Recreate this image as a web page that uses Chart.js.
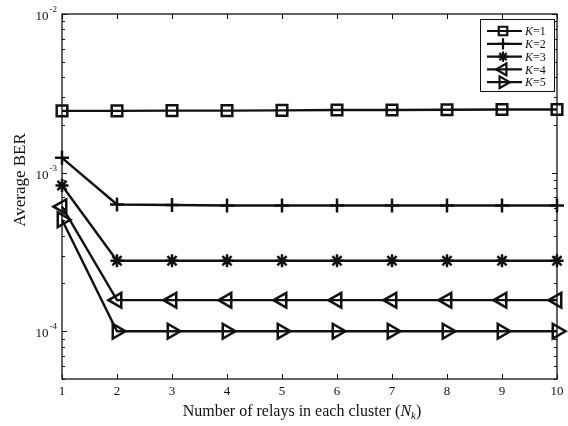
<!DOCTYPE html>
<html>
<head>
<meta charset="utf-8">
<title>Average BER vs number of relays</title>
<script src="https://cdn.jsdelivr.net/npm/chart.js@4.4.1/dist/chart.umd.min.js"></script>
<style>
  html, body { margin: 0; padding: 0; background: #fff; }
  #wrap { width: 568px; height: 426px; }
</style>
</head>
<body>
<div id="wrap"><canvas id="c" width="568" height="426"></canvas></div>
<script>
// Number of relays in each cluster
const relays = [1, 2, 3, 4, 5, 6, 7, 8, 9, 10];

// Average BER for each number of clusters K
const berK1 = [2.45e-3, 2.45e-3, 2.46e-3, 2.46e-3, 2.47e-3, 2.48e-3, 2.48e-3, 2.49e-3, 2.50e-3, 2.50e-3];
const berK2 = [1.24e-3, 6.3e-4, 6.25e-4, 6.2e-4, 6.2e-4, 6.2e-4, 6.2e-4, 6.2e-4, 6.2e-4, 6.2e-4];
const berK3 = [8.3e-4, 2.78e-4, 2.78e-4, 2.78e-4, 2.78e-4, 2.78e-4, 2.78e-4, 2.78e-4, 2.78e-4, 2.78e-4];
const berK4 = [6.1e-4, 1.57e-4, 1.57e-4, 1.57e-4, 1.57e-4, 1.57e-4, 1.57e-4, 1.57e-4, 1.57e-4, 1.57e-4];
const berK5 = [5.05e-4, 1.0e-4, 1.0e-4, 1.0e-4, 1.0e-4, 1.0e-4, 1.0e-4, 1.0e-4, 1.0e-4, 1.0e-4];

const seriesNames = ['K=1', 'K=2', 'K=3', 'K=4', 'K=5'];

// Axis ranges and labelled decades
const xTicks = [1, 2, 3, 4, 5, 6, 7, 8, 9, 10];
const yMin = 5e-5;
const yMax = 1e-2;
const yDecades = [-2, -3, -4];

const SERIF = '"Liberation Serif", "DejaVu Serif", serif';
const INK = '#111';

const markerStyles = [
  { pointStyle: 'rect', radius: 7.5, rotation: 0 },
  { pointStyle: 'cross', radius: 7, rotation: 0 },
  { pointStyle: 'star', radius: 6.5, rotation: 0 },
  { pointStyle: 'triangle', radius: 8.5, rotation: -90 },
  { pointStyle: 'triangle', radius: 8.5, rotation: 90 }
];

const seriesData = [berK1, berK2, berK3, berK4, berK5];

const datasets = seriesData.map((vals, i) => ({
  label: seriesNames[i],
  data: vals,
  borderColor: INK,
  backgroundColor: 'rgba(0,0,0,0)',
  borderWidth: 2.4,
  pointStyle: markerStyles[i].pointStyle,
  pointRadius: markerStyles[i].radius,
  pointRotation: markerStyles[i].rotation,
  pointBorderWidth: 2.5,
  pointBorderColor: INK,
  pointBackgroundColor: 'rgba(0,0,0,0)',
  tension: 0,
  fill: false,
  clip: false
}));

// Frame, inward ticks, tick labels, axis titles and legend
const decorPlugin = {
  id: 'decor',
  afterDraw(chart) {
    const ctx = chart.ctx;
    const a = chart.chartArea;
    const xs = chart.scales.x;
    const ys = chart.scales.y;
    ctx.save();

    // box
    ctx.strokeStyle = INK;
    ctx.lineWidth = 1.3;
    ctx.strokeRect(a.left, a.top, a.right - a.left, a.bottom - a.top);

    // x ticks, top and bottom
    ctx.lineWidth = 1;
    ctx.beginPath();
    xTicks.forEach(v => {
      const px = Math.round(xs.getPixelForValue(v)) + 0.5;
      ctx.moveTo(px, a.bottom); ctx.lineTo(px, a.bottom - 5);
      ctx.moveTo(px, a.top); ctx.lineTo(px, a.top + 5);
    });
    // y ticks, major and minor, left and right
    for (let e = -5; e <= -2; e++) {
      for (let m = 1; m <= 9; m++) {
        const v = m * Math.pow(10, e);
        if (v < yMin * 0.999 || v > yMax * 1.001) continue;
        const py = Math.round(ys.getPixelForValue(v)) + 0.5;
        const len = m === 1 ? 5 : 3;
        ctx.moveTo(a.left, py); ctx.lineTo(a.left + len, py);
        ctx.moveTo(a.right, py); ctx.lineTo(a.right - len, py);
      }
    }
    ctx.stroke();

    // x tick labels
    ctx.fillStyle = INK;
    ctx.font = '13px ' + SERIF;
    ctx.textAlign = 'center';
    ctx.textBaseline = 'top';
    xTicks.forEach(v => {
      ctx.fillText(String(v), xs.getPixelForValue(v), a.bottom + 6);
    });

    // y tick labels: 10 with raised exponent
    yDecades.forEach(e => {
      const py = ys.getPixelForValue(Math.pow(10, e));
      const exp = String(e);
      ctx.font = '9px ' + SERIF;
      const ew = ctx.measureText(exp).width;
      ctx.textAlign = 'right';
      ctx.textBaseline = 'alphabetic';
      ctx.fillText(exp, a.left - 5, py - 2);
      ctx.font = '13px ' + SERIF;
      ctx.fillText('10', a.left - 6 - ew, py + 6);
    });

    // y title
    ctx.save();
    ctx.translate(21, 180);
    ctx.rotate(-Math.PI / 2);
    ctx.font = '17px ' + SERIF;
    ctx.textAlign = 'center';
    ctx.textBaseline = 'middle';
    ctx.fillText('Average BER', 0, 0);
    ctx.restore();

    // x title with italic N and subscript k
    const parts = [
      { t: 'Number of relays in each cluster (', f: '16px ' + SERIF, dy: 0 },
      { t: 'N', f: 'italic 16px ' + SERIF, dy: 0 },
      { t: 'k', f: 'italic 11px ' + SERIF, dy: 3 },
      { t: ')', f: '16px ' + SERIF, dy: 0 }
    ];
    let total = 0;
    parts.forEach(p => { ctx.font = p.f; p.w = ctx.measureText(p.t).width; total += p.w; });
    let cx = 302 - total / 2;
    ctx.textAlign = 'left';
    ctx.textBaseline = 'alphabetic';
    parts.forEach(p => {
      ctx.font = p.f;
      ctx.fillText(p.t, cx, 416 + p.dy);
      cx += p.w;
    });

    // legend
    const lx = 480, ly = 19, lw = 74, lh = 72;
    ctx.fillStyle = '#fff';
    ctx.fillRect(lx, ly, lw, lh);
    ctx.strokeStyle = INK;
    ctx.lineWidth = 1;
    ctx.strokeRect(lx + 0.5, ly + 0.5, lw, lh);
    chart.data.datasets.forEach((ds, i) => {
      const yy = ly + 12 + i * 12.8;
      ctx.strokeStyle = INK;
      ctx.lineWidth = 2.2;
      ctx.beginPath();
      ctx.moveTo(lx + 7, yy); ctx.lineTo(lx + 42, yy);
      ctx.stroke();
      ctx.lineWidth = 2.2;
      ctx.fillStyle = 'rgba(0,0,0,0)';
      Chart.helpers.drawPoint(ctx, {
        pointStyle: ds.pointStyle,
        rotation: ds.pointRotation,
        radius: ds.pointRadius * 0.8,
        borderWidth: 2.2
      }, lx + 23, yy);
      ctx.fillStyle = INK;
      ctx.textBaseline = 'middle';
      ctx.textAlign = 'left';
      ctx.font = 'italic 12px ' + SERIF;
      ctx.fillText('K', lx + 45, yy + 1);
      const kw = ctx.measureText('K').width;
      ctx.font = '12px ' + SERIF;
      ctx.fillText(ds.label.slice(1), lx + 45 + kw, yy + 1);
    });

    ctx.restore();
  }
};

new Chart(document.getElementById('c'), {
  type: 'line',
  data: { labels: relays, datasets },
  options: {
    responsive: false,
    animation: false,
    layout: { padding: { left: 62, right: 11, top: 14, bottom: 47 } },
    plugins: { legend: { display: false }, tooltip: { enabled: false } },
    elements: { line: { borderJoinStyle: 'miter' } },
    scales: {
      x: { type: 'linear', min: 1, max: 10, display: false },
      y: { type: 'logarithmic', min: yMin, max: yMax, display: false }
    }
  },
  plugins: [decorPlugin]
});
</script>
</body>
</html>
